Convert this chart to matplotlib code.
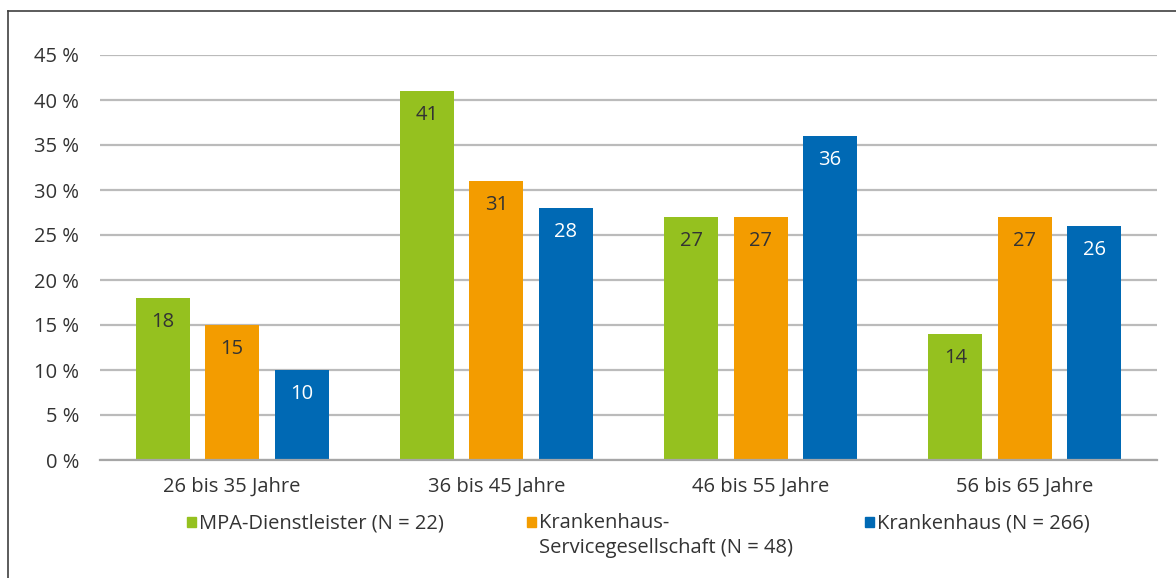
import matplotlib
matplotlib.use("Agg")
import matplotlib.pyplot as plt
import numpy as np
from matplotlib.patches import Rectangle
from matplotlib.lines import Line2D

categories = ["26 bis 35 Jahre", "36 bis 45 Jahre", "46 bis 55 Jahre", "56 bis 65 Jahre"]
series_names = ["MPA-Dienstleister (N = 22)",
                "Krankenhaus-\nServicegesellschaft (N = 48)",
                "Krankenhaus (N = 266)"]
mpa = [18, 41, 27, 14]
service = [15, 31, 27, 27]
kh = [10, 28, 36, 26]
yticks = [0, 5, 10, 15, 20, 25, 30, 35, 40, 45]

colors = ["#95C11F", "#F39C00", "#0069B4"]
label_colors = ["#333333", "#333333", "#FFFFFF"]
text_color = "#333333"
fs = 14.5

plt.rcParams['font.family'] = ['Open Sans', 'DejaVu Sans']

W, H = 1176, 578
fig = plt.figure(figsize=(W / 100, H / 100), dpi=100)
ax = fig.add_axes([100 / W, 1 - 460 / H, (1157 - 100) / W, (460 - 55) / H])

x = np.arange(len(categories))
width = 0.205
offsets = [-0.263, 0.0, 0.263]
for vals, off, c, lc in zip([mpa, service, kh], offsets, colors, label_colors):
    bars = ax.bar(x + off, vals, width=width, color=c, zorder=3)
    for b, v in zip(bars, vals):
        ax.annotate(str(v), (b.get_x() + b.get_width() / 2, b.get_height()),
                    xytext=(0, -17.5), textcoords="offset points",
                    ha="center", va="center", color=lc, fontsize=fs, zorder=4)

ax.set_xlim(-0.5, 3.5)
ax.set_ylim(0, 45)
ax.set_yticks(yticks)
ax.set_yticklabels([f"{t} %" for t in yticks])
ax.set_xticks(x)
ax.set_xticklabels(categories)
ax.grid(axis="y", color="#BBBBBB", linewidth=1.6, zorder=0)
ax.set_axisbelow(True)
for s in ["top", "right", "left"]:
    ax.spines[s].set_visible(False)
ax.spines["bottom"].set_color("#A6A6A6")
ax.spines["bottom"].set_linewidth(1.6)
ax.spines["bottom"].set_zorder(5)
ax.tick_params(axis="both", length=0, colors=text_color, labelsize=fs)
ax.tick_params(axis="y", pad=15)
ax.tick_params(axis="x", pad=12)

# legend (manual, in figure pixel coordinates)
leg_x = [187, 527, 865]
leg_base = 528
line_step = 25
for lx, name, c in zip(leg_x, series_names, colors):
    fig.patches.append(Rectangle((lx / W, 1 - 527 / H), 9 / W, 10 / H,
                                 transform=fig.transFigure, color=c))
    for i, line in enumerate(name.split("\n")):
        fig.text((lx + 12) / W, 1 - (leg_base + i * line_step) / H, line,
                 ha="left", va="baseline", fontsize=fs, color=text_color)

# outer frame (left and top)
fig.add_artist(Line2D([8 / W, 8 / W], [0, 1 - 11 / H], transform=fig.transFigure,
                      color="#3F3F3F", linewidth=1.2))
fig.add_artist(Line2D([8 / W, 1], [1 - 11 / H, 1 - 11 / H], transform=fig.transFigure,
                      color="#3F3F3F", linewidth=1.2))

fig.savefig("out.png", dpi=100)
